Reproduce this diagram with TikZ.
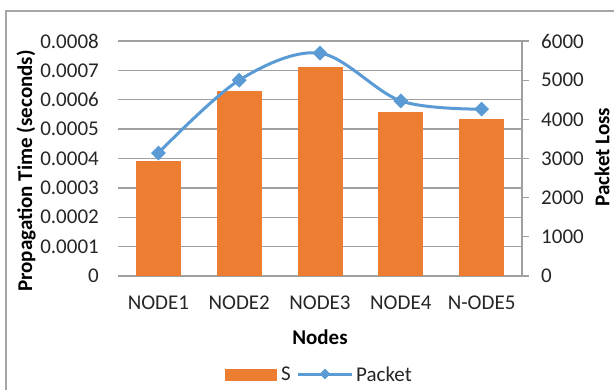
\documentclass[tikz,border=0pt]{standalone}
\usepackage{fontspec}
\setmainfont{Carlito}
\usetikzlibrary{shapes.geometric}
\definecolor{barorange}{HTML}{ED7D31}
\definecolor{lineblue}{HTML}{5B9BD5}
\definecolor{gridgray}{HTML}{A0A0A0}
\definecolor{framegray}{HTML}{A6A6A6}
\begin{document}
\begin{tikzpicture}[x=1bp,y=-1bp,
  ticklabel/.style={font=\fontsize{21bp}{24bp}\selectfont, inner sep=0pt, text=black!85},
  axistitle/.style={font=\fontsize{21bp}{24bp}\selectfont\bfseries, inner sep=0pt},
  gridline/.style={draw=gridgray, line width=1.3bp},
  series/.style={draw=lineblue, line width=3bp},
  dmark/.style={diamond, fill=lineblue, inner sep=0pt, minimum width=15bp, minimum height=15bp},
  dmarksmall/.style={diamond, fill=lineblue, inner sep=0pt, minimum width=11bp, minimum height=11bp}]
\useasboundingbox (0,0) rectangle (614,390);
\fill[white] (0,0) rectangle (614,390);
% chart frame
\draw[framegray, line width=1.5bp] (614,11) -- (6,11) -- (6,390);
% gridlines and left labels
\foreach \k/\t in {0/0,1/0.0001,2/0.0002,3/0.0003,4/0.0004,5/0.0005,6/0.0006,7/0.0007,8/0.0008}{
  \draw[gridline] (118,{276-\k*29.375}) -- (522,{276-\k*29.375});
  \node[ticklabel, anchor=east] (ly\k) at (99,{276-\k*29.375}) {\t};
}
% right axis
\draw[gridline] (522,41) -- (522,276);
\foreach \k/\t in {0/0,1/1000,2/2000,3/3000,4/4000,5/5000,6/6000}{
  \draw[gridline] (522,{276-\k*39.1667}) -- (529,{276-\k*39.1667});
  \node[ticklabel, anchor=west] (ry\k) at (541,{276-\k*39.1667}) {\t};
}
% bars
\foreach \i/\v in {1/3.9,2/6.3,3/7.1,4/5.58,5/5.34}{
  \fill[barorange] ({118+80.8*(\i-0.5)-22.5},276) rectangle ({118+80.8*(\i-0.5)+22.5},{276-\v*29.375});
}
% category labels
\foreach \i/\t in {1/NODE1,2/NODE2,3/NODE3,4/NODE4,5/N-ODE5}{
  \node[ticklabel] (cat\i) at ({118+80.8*(\i-0.5)},303) {\t};
}
% packet series
\foreach \i/\p in {1/3.14,2/5.0,3/5.69,4/4.47,5/4.26}{
  \coordinate (m\i) at ({118+80.8*(\i-0.5)},{276-\p*39.1667});
}
\draw[series] plot[smooth, tension=0.55] coordinates {(m1) (m2) (m3) (m4) (m5)};
\foreach \i in {1,...,5}{
  \node[dmark] (d\i) at (m\i) {};
}
% axis titles
\node[axistitle] (xt) at (320,337) {Nodes};
\node[axistitle, rotate=90] (ylt) at (26,171) {Propagation Time (seconds)};
\node[axistitle, rotate=90] (yrt) at (602,157) {Packet Loss};
% legend
\fill[barorange] (225,369) rectangle (277,381);
\node[ticklabel, anchor=west] (legS) at (281,374) {S};
\coordinate (la) at (298,374);
\coordinate (lb) at (352,374);
\draw[series] (la) -- (lb);
\node[dmarksmall] (ld) at (325,374) {};
\node[ticklabel, anchor=west] (legP) at (356,374) {Packet};
\end{tikzpicture}
\end{document}
